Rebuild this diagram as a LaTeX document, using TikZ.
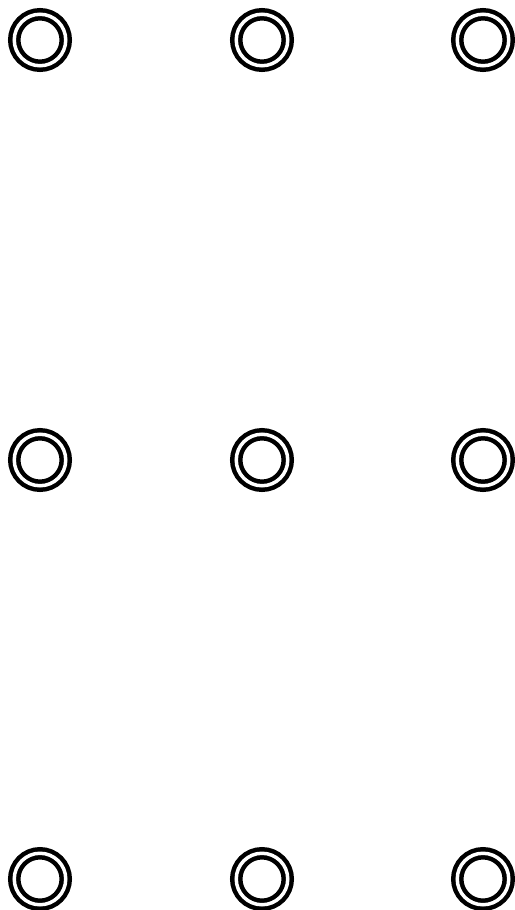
\documentclass[tikz,border=0pt]{standalone}
\usepackage{tikz}
\usetikzlibrary{positioning}

\begin{document}
\begin{tikzpicture}[
  x=1pt, y=-1pt,
  ring/.style={
    circle, draw=black, line width=4.5pt,
    double=white, double distance=3.5pt,
    minimum size=51.5pt, inner sep=0pt
  }
]

%% ============================================================
%%  FRAME
%% ============================================================
\fill[white] (0,0) rectangle (514,910);
\useasboundingbox (0,0) rectangle (514,910);

%% ============================================================
%%  RINGS -- 3 x 3 grid
%% ============================================================
\foreach \row/\py in {1/40, 2/460, 3/879}
  \foreach \col/\px in {1/40, 2/262, 3/483}
    \node[ring] (ring\row\col) at (\px, \py) {};

\end{tikzpicture}
\end{document}
